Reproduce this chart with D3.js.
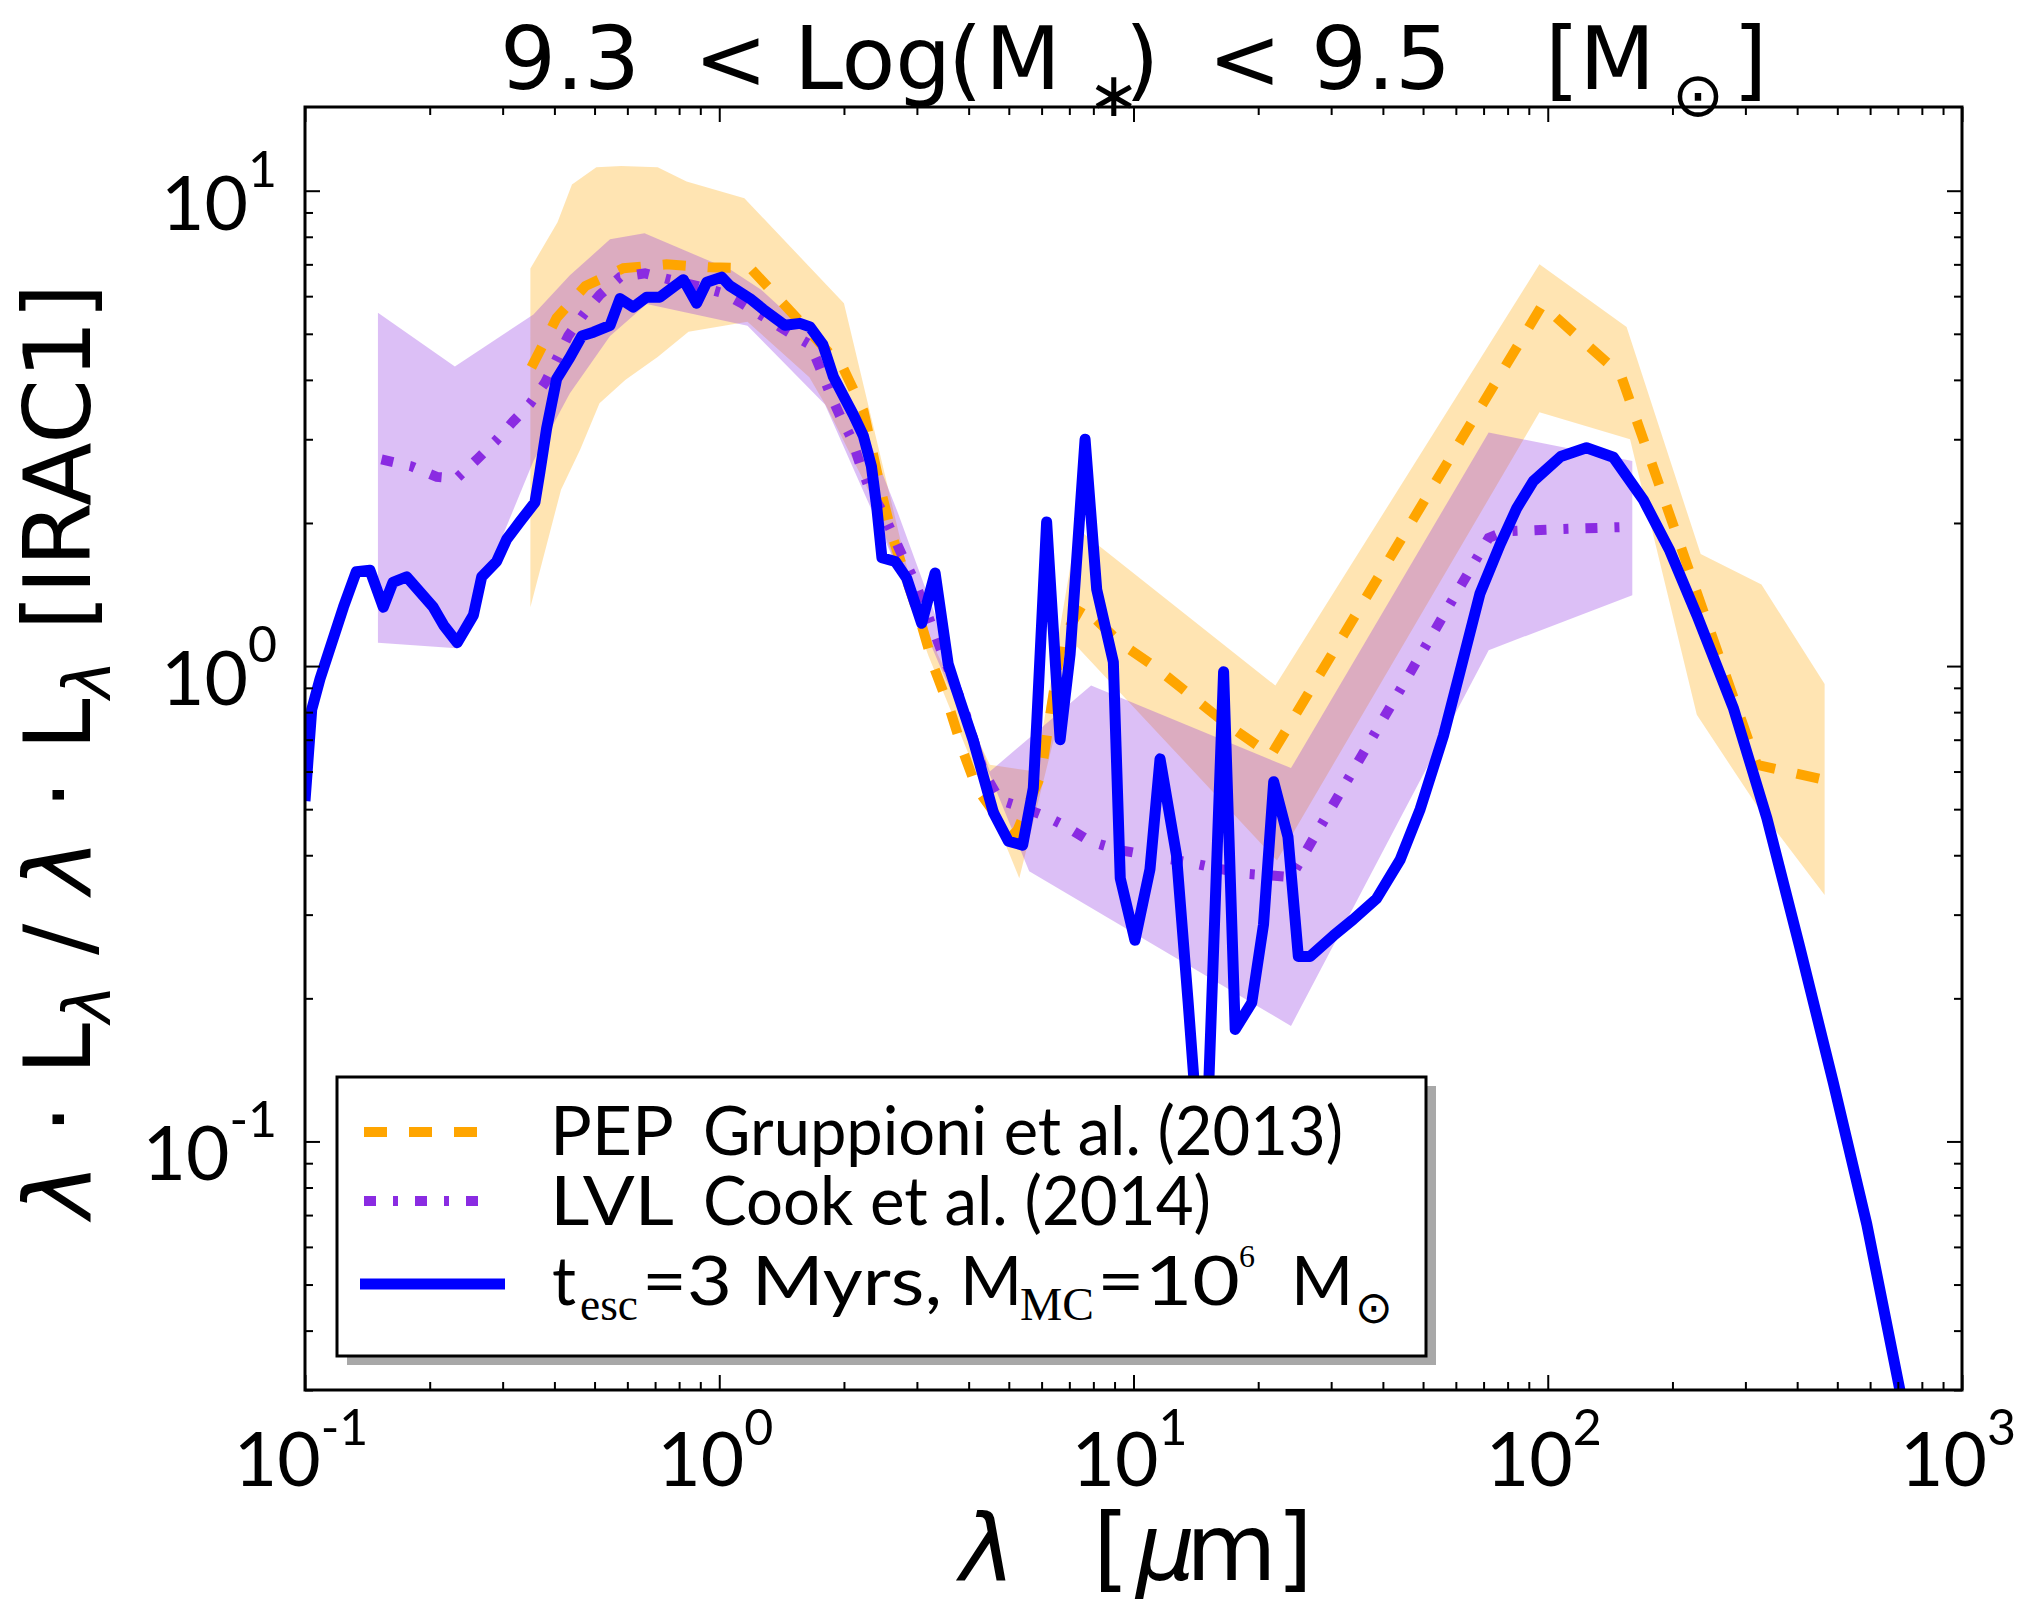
<!DOCTYPE html>
<html><head><meta charset="utf-8">
<script src="https://cdn.jsdelivr.net/npm/d3@7"></script>
<style>body{margin:0;background:#fff} svg{display:block}</style>
</head><body>
<svg id="c" width="2022" height="1599"></svg>
<script>
// ---------- data (wavelength in micron, normalised luminosity) ----------
const model = [[0.1,0.52],[0.1038,0.81],[0.1087,0.94],[0.1238,1.33],[0.133,1.58],[0.1435,1.59],[0.1545,1.33],[0.163,1.50],[0.176,1.54],[0.204,1.33],[0.216,1.22],[0.233,1.12],[0.255,1.28],[0.267,1.54],[0.290,1.66],[0.307,1.85],[0.330,2.01],[0.359,2.21],[0.369,2.56],[0.383,3.16],[0.405,4.02],[0.436,4.46],[0.466,4.95],[0.497,5.04],[0.545,5.21],[0.576,5.93],[0.620,5.69],[0.668,5.97],[0.719,5.97],[0.819,6.50],[0.882,5.80],[0.933,6.42],[1.014,6.58],[1.06,6.31],[1.186,5.93],[1.277,5.63],[1.441,5.21],[1.566,5.26],[1.656,5.17],[1.78,4.74],[1.886,4.06],[2.107,3.38],[2.228,3.05],[2.33,2.63],[2.40,2.16],[2.47,1.69],[2.66,1.66],[2.835,1.53],[3.08,1.23],[3.32,1.57],[3.57,1.01],[3.74,0.89],[4.10,0.70],[4.59,0.492],[4.99,0.428],[5.40,0.42],[5.73,0.554],[5.84,0.76],[6.17,2.01],[6.65,0.70],[7.03,1.06],[7.64,3.00],[8.15,1.45],[8.94,1.02],[9.29,0.358],[10.08,0.265],[10.96,0.374],[11.59,0.638],[12.7,0.40],[13.55,0.196],[14.8,0.07],[16.5,0.973],[17.6,0.172],[19.3,0.196],[20.6,0.286],[21.8,0.571],[23.6,0.437],[25.0,0.245],[26.7,0.245],[30.4,0.271],[33.9,0.293],[38.6,0.324],[44,0.391],[49.2,0.50],[56,0.713],[61.4,0.973],[68.6,1.42],[76.7,1.80],[84.2,2.15],[92.3,2.45],[107.5,2.76],[124,2.88],[144,2.75],[170,2.24],[197,1.75],[229,1.28],[281,0.813],[338,0.479],[406,0.256],[489,0.133],[589,0.067],[708,0.03],[760,0.022]];

const pepLine = [[0.352,4.25],[0.405,5.4],[0.475,6.3],[0.587,6.87],[0.746,7.0],[0.95,6.9],[1.19,6.87],[1.43,5.78],[1.99,4.24],[2.23,3.44],[2.47,2.29],[2.63,1.85],[3.08,1.22],[3.29,1.0],[3.61,0.807],[3.88,0.66],[4.18,0.554],[4.76,0.473],[5.18,0.44],[5.97,0.588],[6.71,1.13],[7.5,1.34],[9.27,1.12],[11.2,1.0],[13.7,0.87],[16.8,0.754],[21.5,0.65],[97,5.75],[150,4.1],[320,0.62],[470,0.575]];
const pepUpper = [[0.35,6.86],[0.407,8.58],[0.441,10.3],[0.505,11.2],[0.58,11.27],[0.71,11.2],[0.834,10.46],[1.15,9.64],[2.0,5.8],[2.94,1.42],[3.3,1.1],[4.5,0.62],[5.8,0.6],[7.3,1.95],[22,0.91],[95.5,7.0],[155,5.17],[234,1.72],[328,1.485],[466,0.917]];
const pepLower = [[0.35,1.33],[0.415,2.35],[0.462,2.86],[0.514,3.57],[0.593,4.0],[0.71,4.47],[0.843,5.05],[1.17,5.30],[1.65,4.05],[1.82,3.5],[2.31,2.31],[3.2,1.05],[5.3,0.358],[7.3,1.1],[22.2,0.39],[95.5,3.42],[158,3.0],[229,0.79],[319,0.51],[466,0.33]];

const lvlLine = [[0.153,2.72],[0.181,2.63],[0.208,2.50],[0.232,2.48],[0.26,2.72],[0.288,2.97],[0.318,3.27],[0.349,3.56],[0.38,3.95],[0.405,4.42],[0.432,4.95],[0.47,5.49],[0.515,6.04],[0.576,6.58],[0.662,6.70],[0.76,6.5],[0.882,6.31],[1.02,6.09],[1.14,5.78],[1.47,5.04],[1.66,4.74],[1.75,4.24],[1.85,3.75],[1.96,3.35],[2.09,3.0],[2.19,2.65],[2.31,2.35],[2.47,2.12],[2.61,1.91],[2.78,1.69],[2.94,1.53],[3.29,1.19],[3.46,1.06],[3.88,0.823],[4.34,0.60],[4.76,0.522],[5.3,0.507],[6.17,0.482],[6.9,0.459],[7.85,0.428],[9.27,0.41],[10.2,0.404],[13.7,0.386],[18.4,0.366],[24,0.36],[72,1.86],[78.6,1.92],[105,1.94],[150,1.96]];
const lvlUpper = [[0.15,5.54],[0.23,4.27],[0.356,5.49],[0.436,6.64],[0.545,7.9],[0.66,8.14],[1.07,6.8],[1.26,6.2],[1.68,4.93],[2.2,3.3],[2.7,2.1],[3.3,1.3],[4.5,0.6],[7.9,0.91],[24,0.61],[72,3.1],[160,2.7]];
const lvlLower = [[0.15,1.12],[0.232,1.09],[0.356,2.7],[0.436,3.75],[0.545,4.95],[0.668,5.78],[1.17,5.2],[1.8,3.55],[2.35,2.1],[2.94,1.35],[3.5,0.95],[4.5,0.59],[5.6,0.37],[24,0.175],[72,1.08],[160,1.41]];

const xMajor = [0.1,1,10,100,1000];
const xMajorExp = ["-1","0","1","2","3"];
const yMajor = [0.1,1,10];
const yMajorExp = ["-1","0","1"];

// ---------- layout ----------
const X0=305, X1=1962, Y0=107, Y1=1390;
const svg = d3.select('#c');
svg.append('rect').attr('width',2022).attr('height',1599).attr('fill','#fff');
const x = d3.scaleLog().domain([0.1,1000]).range([X0,X1]);
const y = d3.scaleLog().domain([0.03,15]).range([Y1,Y0]);

svg.append('defs').append('clipPath').attr('id','clip').append('rect')
  .attr('x',X0).attr('y',Y0).attr('width',X1-X0).attr('height',Y1-Y0);
const g = svg.append('g').attr('clip-path','url(#clip)');
const line = d3.line().x(d=>x(d[0])).y(d=>y(d[1]));
const band = (up,lo)=> line(up.concat(lo.slice().reverse())) + 'Z';

g.append('path').attr('d',band(pepUpper,pepLower)).attr('fill','#FFA500').attr('fill-opacity',0.3);
g.append('path').attr('d',band(lvlUpper,lvlLower)).attr('fill','#8A2BE2').attr('fill-opacity',0.3);
g.append('path').attr('d',line(pepLine)).attr('fill','none').attr('stroke','#FFA500')
  .attr('stroke-width',10).attr('stroke-dasharray','23,22');
g.append('path').attr('d',line(lvlLine)).attr('fill','none').attr('stroke','#8A2BE2')
  .attr('stroke-width',10).attr('stroke-dasharray','12,17,5,17');
g.append('path').attr('d',line(model)).attr('fill','none').attr('stroke','#0000FF')
  .attr('stroke-width',11).attr('stroke-linejoin','round');

// ---------- ticks ----------
const xMinor=[], yMinor=[];
[0.1,1,10,100].forEach(d=>{for(let m=2;m<=9;m++) xMinor.push(d*m);});
[0.01,0.1,1].forEach(d=>{for(let m=2;m<=9;m++){const v=d*m; if(v>=0.03 && v<=15) yMinor.push(v);} });
function tk(fn, sc, vals, size, tr){
  svg.append('g').attr('transform',tr)
    .call(fn(sc).tickValues(vals).tickSize(size).tickFormat(''))
    .call(s=>s.select('.domain').remove())
    .call(s=>s.selectAll('line').attr('stroke','#000').attr('stroke-width',2));
}
tk(d3.axisBottom,x,xMajor,-15,`translate(0,${Y1})`);
tk(d3.axisBottom,x,xMinor,-8,`translate(0,${Y1})`);
tk(d3.axisTop,x,xMajor,-15,`translate(0,${Y0})`);
tk(d3.axisTop,x,xMinor,-8,`translate(0,${Y0})`);
tk(d3.axisLeft,y,yMajor,-15,`translate(${X0},0)`);
tk(d3.axisLeft,y,yMinor,-8,`translate(${X0},0)`);
tk(d3.axisRight,y,yMajor,-15,`translate(${X1},0)`);
tk(d3.axisRight,y,yMinor,-8,`translate(${X1},0)`);
svg.append('rect').attr('x',X0).attr('y',Y0).attr('width',X1-X0).attr('height',Y1-Y0)
  .attr('fill','none').attr('stroke','#000').attr('stroke-width',3);

const tickFont = 'Lato';
yMajor.forEach((v,i)=>{
  const t = svg.append('text').attr('x',X0-28).attr('y',y(v)+39).attr('text-anchor','end')
    .attr('font-family',tickFont).attr('font-size',75).attr('fill','#000');
  t.append('tspan').text('10');
  t.append('tspan').attr('dy',-43).attr('font-size',50).text(yMajorExp[i]);
});
xMajor.forEach((v,i)=>{
  const t = svg.append('text').attr('x',x(v)-4).attr('y',1486).attr('text-anchor','middle')
    .attr('font-family',tickFont).attr('font-size',75).attr('fill','#000');
  t.append('tspan').text('10');
  t.append('tspan').attr('dy',-41).attr('font-size',50).text(xMajorExp[i]);
});

// ---------- title ----------
const tf = "'DejaVu Sans'";
function tx(str,xx,yy,size,opts={}){
  const t = svg.append('text').attr('x',xx).attr('y',yy).attr('font-family',opts.family||tf)
    .attr('font-size',size).attr('fill','#000').text(str);
  if(opts.italic) t.attr('font-style','italic');
  if(opts.anchor) t.attr('text-anchor',opts.anchor);
  if(opts.len) t.attr('textLength',opts.len).attr('lengthAdjust','spacingAndGlyphs');
  return t;
}
tx('9.3',500,89,88);
tx('<',694,89,88);
tx('Log',794,89,88);
tx('(',948,89,88);
tx('M',985,89,88);
tx('\u2217',1088,116,62);
tx(')',1125,89,88);
tx('<',1208,89,88);
tx('9.5',1311,89,88);
tx('[M',1545,89,88);
tx('\u2299',1672,116,62);
tx(']',1733,89,88);

// ---------- axis labels ----------
tx('\u03bb',960,1580,93,{italic:true});
tx('[',1093,1580,93);
tx('\u03bc',1136,1580,93,{italic:true});
tx('m]',1186,1580,93);

const yl = svg.append('text').attr('transform','translate(90,751) rotate(-90)')
  .attr('text-anchor','middle').attr('font-family',tf).attr('font-size',93).attr('fill','#000');
yl.append('tspan').attr('font-style','italic').text('\u03bb');
yl.append('tspan').text(' \u00b7 L');
yl.append('tspan').attr('font-style','italic').attr('font-size',65).attr('dy',20).text('\u03bb');
yl.append('tspan').attr('dy',-20).text(' / ');
yl.append('tspan').attr('font-style','italic').text('\u03bb');
yl.append('tspan').text(' \u00b7 L');
yl.append('tspan').attr('font-style','italic').attr('font-size',65).attr('dy',20).text('\u03bb');
yl.append('tspan').attr('dy',-20).text(' [IRAC1]');

// ---------- legend ----------
const LX=337, LY=1077, LW=1089, LH=279;
svg.append('rect').attr('x',LX+10).attr('y',LY+9).attr('width',LW).attr('height',LH).attr('fill','#a8a8a8');
svg.append('rect').attr('x',LX).attr('y',LY).attr('width',LW).attr('height',LH)
  .attr('fill','#fff').attr('stroke','#000').attr('stroke-width',3);
svg.append('line').attr('x1',364).attr('x2',477).attr('y1',1132).attr('y2',1132)
  .attr('stroke','#FFA500').attr('stroke-width',10).attr('stroke-dasharray','23,22');
svg.append('line').attr('x1',364).attr('x2',480).attr('y1',1201).attr('y2',1201)
  .attr('stroke','#8A2BE2').attr('stroke-width',10).attr('stroke-dasharray','12,17,5,17');
svg.append('line').attr('x1',360).attr('x2',505).attr('y1',1284).attr('y2',1284)
  .attr('stroke','#0000FF').attr('stroke-width',11);
const lf='Lato', sf="'Liberation Serif'";
tx('PEP',550,1155,67,{family:lf,len:124});
tx('Gruppioni et al. (2013)',703,1155,67,{family:lf,len:640});
tx('LVL',550,1225,67,{family:lf,len:124});
tx('Cook et al. (2014)',703,1225,67,{family:lf,len:508});
tx('t',552,1305,67,{family:lf});
tx('esc',580,1320,46,{family:sf,len:58});
tx('=3 Myrs,',642,1305,67,{family:lf,len:300});
tx('M',960,1305,67,{family:lf});
tx('MC',1020,1320,46,{family:sf,len:74});
tx('=10',1097,1305,67,{family:lf,len:143});
tx('6',1239,1267,32,{family:sf});
tx('M',1291,1305,67,{family:lf});
tx('\u2299',1355,1323,45);
</script>
</body></html>
